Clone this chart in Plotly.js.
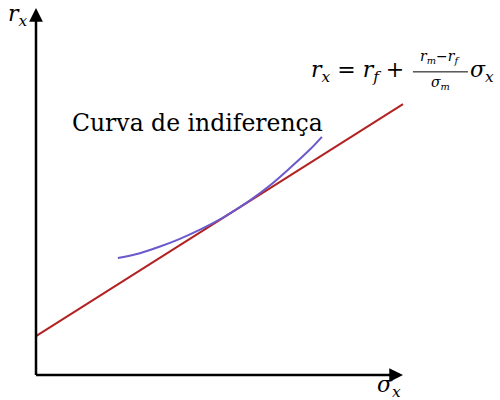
<!DOCTYPE html>
<html>
<head>
<meta charset="utf-8">
<script src="https://cdn.plot.ly/plotly-3.0.1.min.js"></script>
<style>
  html, body { margin: 0; padding: 0; background: #ffffff; }
  #chart { width: 500px; height: 400px; }
</style>
</head>
<body>
<div id="chart"></div>
<script>
// Capital market line: r_x = r_f + (r_m - r_f)/sigma_m * sigma_x
const cmlSigma = [0, 10];
const cmlReturn = [1.06, 7.38];

// Indifference curve, tangent to the capital market line
const curveSigma = [2.23, 2.83, 3.38, 3.92, 4.47, 5.01, 5.42, 5.83, 6.38, 6.92, 7.47, 7.79];
const curveReturn = [3.19, 3.32, 3.50, 3.71, 3.96, 4.24, 4.49, 4.76, 5.17, 5.64, 6.15, 6.49];

// Axis extents (arrow tips)
const axisMax = 10;

const serif = 'DejaVu Serif';
const big = { family: serif, size: 23.5, color: '#000000' };
const math = { family: serif, size: 22, color: '#000000' };
const small = { family: serif, size: 14, color: '#000000' };

const traces = [
  {
    x: cmlSigma, y: cmlReturn, mode: 'lines', type: 'scatter',
    line: { color: '#b22222', width: 2 }, hoverinfo: 'skip'
  },
  {
    x: curveSigma, y: curveReturn, mode: 'lines', type: 'scatter',
    line: { color: '#6a5acd', width: 2, shape: 'spline', smoothing: 1 }, hoverinfo: 'skip'
  }
];

function arrow(x, y, ax, ay) {
  return {
    x: x, y: y, ax: ax, ay: ay, xref: 'x', yref: 'y', axref: 'x', ayref: 'y',
    text: '', showarrow: true, arrowhead: 2, arrowsize: 1.1, arrowwidth: 2.5,
    arrowcolor: '#000000', standoff: 0
  };
}

function label(text, x, y, font, xanchor) {
  return {
    x: x, y: y, xref: 'x', yref: 'y', text: text, showarrow: false,
    font: font, xanchor: xanchor || 'center', yanchor: 'middle'
  };
}

const annotations = [
  arrow(axisMax, 0, -0.04, 0),
  arrow(0, axisMax, 0, -0.04),
  label('<i>r<sub>x</sub></i>', -0.50, 9.80, math),
  label('<i>σ<sub>x</sub></i>', 9.62, -0.32, math),
  label('Curva de indiferença', 4.41, 6.86, big),
  label('<i>r<sub>x</sub></i> = <i>r<sub>f</sub></i> +', 10.08, 8.28, math, 'right'),
  label('<i>r<sub>m</sub></i>−<i>r<sub>f</sub></i>', 11.01, 8.66, small),
  label('<i>σ<sub>m</sub></i>', 11.01, 7.95, small),
  label('<i>σ<sub>x</sub></i>', 11.78, 8.26, math, 'left')
];

// Fraction bar of the equation
const shapes = [
  { type: 'line', xref: 'x', yref: 'y', x0: 10.27, x1: 11.77, y0: 8.26, y1: 8.26,
    line: { color: '#000000', width: 1 } }
];

const layout = {
  width: 500, height: 400,
  margin: { l: 0, r: 0, t: 0, b: 0 },
  paper_bgcolor: '#ffffff', plot_bgcolor: '#ffffff',
  showlegend: false,
  font: { family: serif },
  xaxis: { range: [-0.981, 12.643], visible: false, fixedrange: true },
  yaxis: { range: [-0.681, 10.218], visible: false, fixedrange: true },
  annotations: annotations,
  shapes: shapes
};

Plotly.newPlot('chart', traces, layout, { displayModeBar: false, staticPlot: true });
</script>
</body>
</html>
